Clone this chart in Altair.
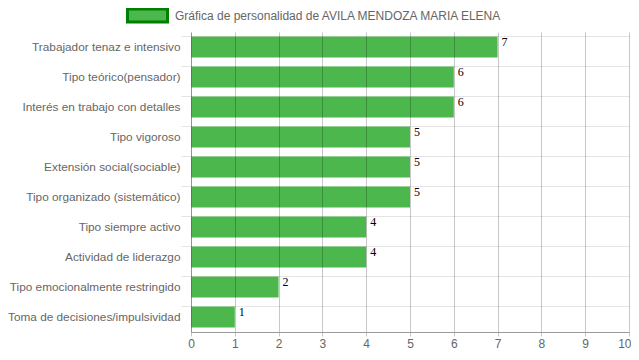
import altair as alt
import pandas as pd

categories = [
    "Trabajador tenaz e intensivo",
    "Tipo teórico(pensador)",
    "Interés en trabajo con detalles",
    "Tipo vigoroso",
    "Extensión social(sociable)",
    "Tipo organizado (sistemático)",
    "Tipo siempre activo",
    "Actividad de liderazgo",
    "Tipo emocionalmente restringido",
    "Toma de decisiones/impulsividad",
]
values = [7, 6, 6, 5, 5, 5, 4, 4, 2, 1]
series_name = "Gráfica de personalidad de AVILA MENDOZA MARIA ELENA"
x_ticks = list(range(0, 11))

df = pd.DataFrame({"cat": categories, "val": values, "serie": series_name})

FONT = "Liberation Sans"

y_enc = alt.Y(
    "cat:N",
    sort=categories,
    title=None,
    scale=alt.Scale(paddingInner=0.3, paddingOuter=0.15),
    axis=alt.Axis(
        bandPosition=0,
        grid=True,
        gridColor="#e4e4e4",
        tickColor="#e4e4e4",
        tickSize=10,
        labelPadding=1,
        labelFont=FONT,
        labelFontSize=11.8,
        labelColor="#666666",
        domainColor="#bdbdbd",
        labelLimit=300,
    ),
)

x_enc = alt.X(
    "val:Q",
    title=None,
    scale=alt.Scale(domain=[0, 10], nice=False),
    axis=alt.Axis(
        values=x_ticks,
        grid=True,
        gridColor="rgba(0,0,0,0.22)",
        tickColor="rgba(0,0,0,0.22)",
        tickSize=4,
        labelPadding=2,
        labelFont=FONT,
        labelFontSize=12,
        labelColor="#666666",
        domainColor="#999999",
        labelFlush=False,
        labelAlign={"condition": {"test": "datum.value == 10", "value": "right"}, "value": "center"},
        labelOffset={"condition": {"test": "datum.value == 10", "value": 2}, "value": 0},
        zindex=1,
    ),
)

bars = alt.Chart(df).mark_bar().encode(
    x=x_enc,
    y=y_enc,
    fill=alt.Fill(
        "serie:N",
        scale=alt.Scale(domain=[series_name], range=["#4cb74c"]),
        legend=alt.Legend(
            title=None,
            orient="none",
            legendX=-65,
            legendY=-38,
            symbolType="M-1,-0.325H1V0.325H-1Z",
            symbolSize=1600,
            symbolStrokeColor="#008000",
            symbolStrokeWidth=3,
            symbolOpacity=1,
            labelFont=FONT,
            labelFontSize=12,
            labelColor="#666666",
            labelOffset=6,
            labelLimit=500,
            padding=0,
        ),
    ),
)

labels = alt.Chart(df).mark_text(
    align="left",
    baseline="top",
    dx=4,
    dy=-10,
    font="Liberation Serif",
    fontSize=12,
    color="#000000",
).encode(
    x="val:Q",
    y=alt.Y("cat:N", sort=categories),
    text="val:Q",
)

chart = (
    alt.layer(bars, labels)
    .properties(
        width=438,
        height=300,
        autosize=alt.AutoSizeParams(type="none"),
        padding={"left": 183, "top": 24, "right": 2, "bottom": 20},
    )
    .configure_view(stroke=None)
    .configure_axis(gridOpacity=1)
)

chart.save("out.html", embed_options={"renderer": "svg", "actions": False})
